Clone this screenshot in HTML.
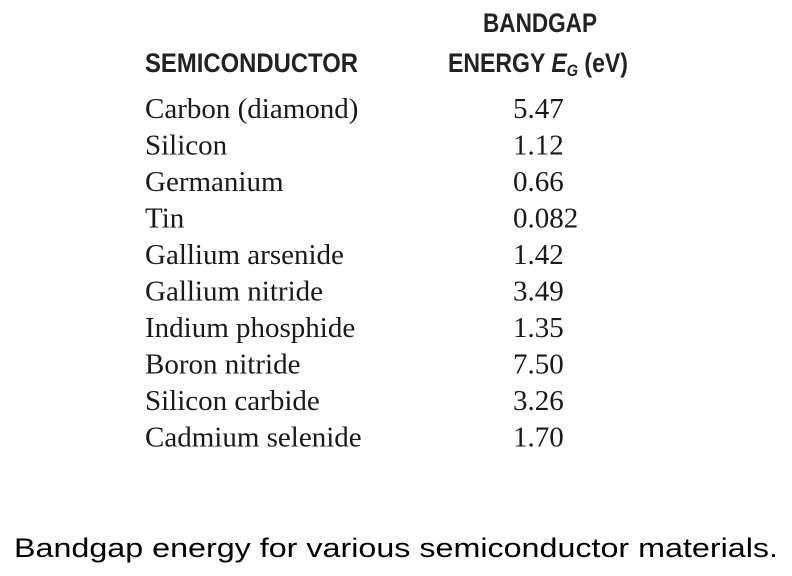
<!DOCTYPE html>
<html><head><meta charset="utf-8"><style>
html,body{margin:0;padding:0;background:#fff;}
svg{display:block;}
.h{font-family:"Liberation Sans",sans-serif;font-size:27px;font-weight:bold;fill:#222;}
.r{font-family:"Liberation Serif",serif;font-size:29px;fill:#1a1a1a;}
.c{font-family:"Liberation Sans",sans-serif;font-size:27px;fill:#000;}
</style></head><body>
<svg width="792" height="576" viewBox="0 0 792 576">
<text class="h" x="483" y="32" textLength="114" lengthAdjust="spacingAndGlyphs">BANDGAP</text>
<text class="h" x="448" y="72" textLength="180" lengthAdjust="spacingAndGlyphs">ENERGY <tspan font-style="italic">E</tspan><tspan font-style="italic" font-size="17" dy="4">G</tspan><tspan dy="-4"> (eV)</tspan></text>
<text class="h" x="145" y="72" textLength="213" lengthAdjust="spacingAndGlyphs">SEMICONDUCTOR</text>
<g id="rows"></g>
<text class="c" x="14" y="557" textLength="764" lengthAdjust="spacingAndGlyphs">Bandgap energy for various semiconductor materials.</text>
</svg>
<script>
const materials=["Carbon (diamond)","Silicon","Germanium","Tin","Gallium arsenide","Gallium nitride","Indium phosphide","Boron nitride","Silicon carbide","Cadmium selenide"];
const energies=["5.47","1.12","0.66","0.082","1.42","3.49","1.35","7.50","3.26","1.70"];
const g=document.getElementById('rows');
const NS="http://www.w3.org/2000/svg";
materials.forEach((m,i)=>{
  const y=118+i*36.5;
  const t=document.createElementNS(NS,'text');
  t.setAttribute('class','r');t.setAttribute('x',145);t.setAttribute('y',y);
  
  
  t.textContent=m;g.appendChild(t);
  const v=document.createElementNS(NS,'text');
  v.setAttribute('class','r');v.setAttribute('x',513);v.setAttribute('y',y);
  
  
  v.textContent=energies[i];g.appendChild(v);
});
</script>
</body></html>
